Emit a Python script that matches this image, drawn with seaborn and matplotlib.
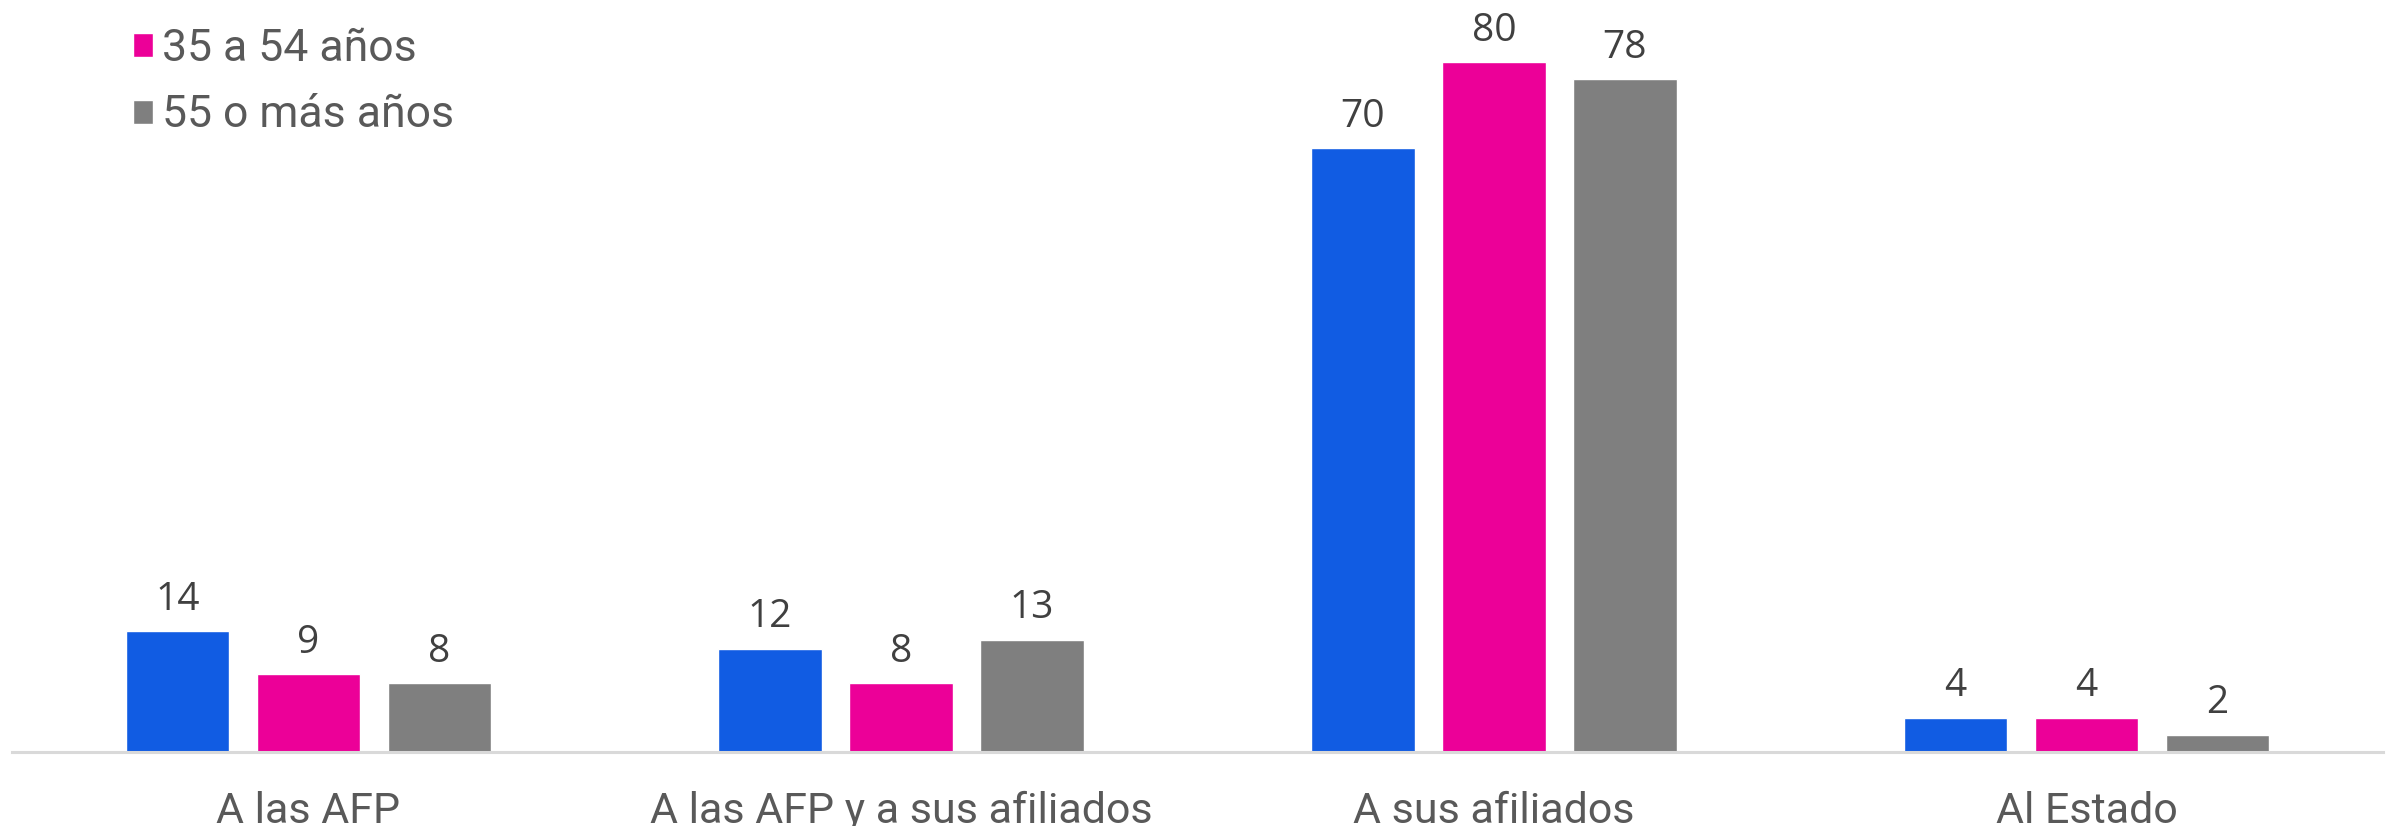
import pandas as pd
import numpy as np
import matplotlib
matplotlib.use("Agg")
import matplotlib.pyplot as plt
import seaborn as sns

categories = ["A las AFP", "A las AFP y a sus afiliados", "A sus afiliados", "Al Estado"]
grupos = ["18 a 34 años", "35 a 54 años", "55 o más años"]
v_18_34 = [14, 12, 70, 4]
v_35_54 = [9, 8, 80, 4]
v_55_mas = [8, 13, 78, 2]
colores = ["#115CE3", "#EC0098", "#7F7F7F"]

df = pd.DataFrame({
    "categoria": categories * 3,
    "grupo": [g for g in grupos for _ in categories],
    "valor": v_18_34 + v_35_54 + v_55_mas,
})

sns.set_style("white")
plt.rcParams["font.family"] = ["Roboto", "DejaVu Sans"]

fig = plt.figure(figsize=(23.87, 8.26), dpi=100)
ax = fig.add_axes([12 / 2387, 74 / 826, 2371 / 2387, 752 / 826])

sns.barplot(data=df, x="categoria", y="valor", hue="grupo", order=categories,
            hue_order=grupos, palette=colores, width=0.663, gap=0.21,
            saturation=1, ax=ax, legend=True)

for cont in ax.containers:
    ax.bar_label(cont, fmt="%d", padding=9, fontsize=28, color="#404040",
                 family=["Open Sans", "DejaVu Sans"])

ax.set_xlim(-0.5, 3.5)
ax.set_ylim(0, 87.2)
ax.set_xlabel("")
ax.set_ylabel("")
ax.set_yticks([])
for s in ["top", "right", "left"]:
    ax.spines[s].set_visible(False)
ax.spines["bottom"].set_color("#D9D9D9")
ax.spines["bottom"].set_linewidth(2.2)
ax.tick_params(axis="x", length=0, pad=28, labelsize=31, labelcolor="#595959")

# solo se ven dos entradas de la leyenda en la referencia
handles, labels = ax.get_legend_handles_labels()
ax.legend(handles[1:], labels[1:], loc="upper left",
          bbox_to_anchor=(93 / 2387, 1 + 12 / 826), bbox_transform=fig.transFigure,
          frameon=False, fontsize=32, labelcolor="#595959",
          handlelength=0.45, handleheight=0.45, handletextpad=0.2, labelspacing=0.55)

fig.savefig("out.png", dpi=100)
